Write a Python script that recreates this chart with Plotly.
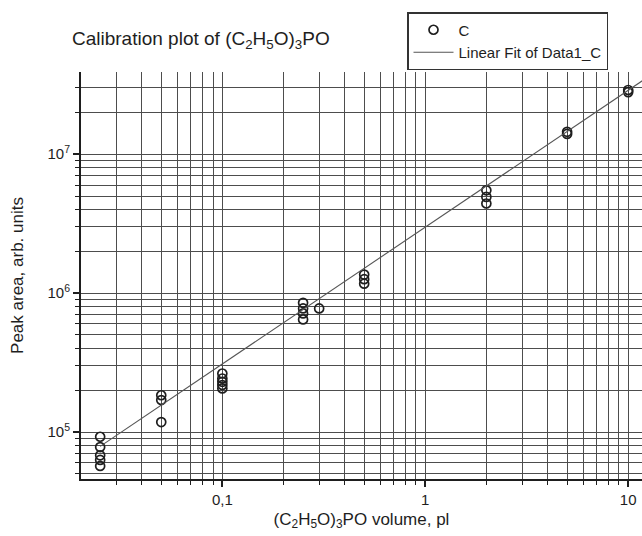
import numpy as np
import plotly.graph_objects as go

# ---- data ----
x_vol = [0.025, 0.025, 0.025, 0.025, 0.025,
         0.05, 0.05, 0.05,
         0.1, 0.1, 0.1, 0.1, 0.1,
         0.25, 0.25, 0.25, 0.25,
         0.3,
         0.5, 0.5, 0.5,
         2, 2, 2,
         5, 5,
         10, 10]
y_area = [92500, 78000, 68000, 63000, 57000,
          184000, 170000, 118000,
          264000, 243000, 230000, 218000, 206000,
          851000, 776000, 714000, 647000,
          776000,
          1360000, 1260000, 1170000,
          5500000, 4930000, 4420000,
          1.45e7, 1.40e7,
          2.90e7, 2.80e7]

# linear fit in log-log space: log10(y) = fit_intercept + fit_slope*log10(x)
fit_slope = 0.985
fit_intercept = 6.475
fit_x = [0.025, 12.0]

x_major = [0.1, 1, 10]
x_major_text = ["0,1", "1", "10"]
y_major = [1e5, 1e6, 1e7]
y_major_text = ["10<sup>5</sup>", "10<sup>6</sup>", "10<sup>7</sup>"]

def minor_vals(decades, lo, hi):
    out = []
    for d in decades:
        for m in range(2, 10):
            v = m * 10.0 ** d
            if lo <= v <= hi:
                out.append(v)
    return out

x_minor = minor_vals([-2, -1, 0, 1], 0.019, 12)
y_minor = minor_vals([4, 5, 6, 7], 4.5e4, 4e7)

fit_y = [10 ** (fit_intercept + fit_slope * np.log10(v)) for v in fit_x]

FONT = "Liberation Sans, Arial, Helvetica, sans-serif"
INK = "#1e1e1e"
GRID = "#4d4d4d"

L, R, T, B = 81, 0, 72, 57
PW, PH = 642 - L - R, 536 - T - B

fig = go.Figure()
fig.add_trace(go.Scatter(
    x=x_vol, y=y_area, mode="markers", name="C",
    marker=dict(symbol="circle-open", size=9, color=INK, line=dict(width=1.7, color=INK)),
))
fig.add_trace(go.Scatter(
    x=fit_x, y=fit_y, mode="lines", name="Linear Fit of Data1_C",
    line=dict(color="#555555", width=1.1),
))

fig.update_layout(
    width=642, height=536,
    margin=dict(l=L, r=R, t=T, b=B, autoexpand=False),
    paper_bgcolor="white", plot_bgcolor="white",
    font=dict(family=FONT, color=INK, size=14),
    showlegend=True,
    legend=dict(
        x=(407 - L) / PW, y=(536 - B - 12) / PH, xanchor="left", yanchor="top",
        bordercolor="#333333", borderwidth=1.5, bgcolor="white",
        font=dict(size=15, family=FONT, color=INK),
        itemwidth=40, tracegroupgap=0,
    ),
    annotations=[dict(
        text="Calibration plot of (C<sub>2</sub>H<sub>5</sub>O)<sub>3</sub>PO",
        xref="paper", yref="paper",
        x=(70 - L) / PW, y=(536 - B - 40) / PH,
        xanchor="left", yanchor="middle", showarrow=False,
        font=dict(size=19, family=FONT, color=INK),
    )],
)

fig.update_xaxes(
    type="log", range=[-1.6965, 1.068], automargin=False,
    tickvals=x_major, ticktext=x_major_text,
    ticks="outside", ticklen=6, tickwidth=1.5, tickcolor=INK,
    showline=True, linewidth=2, linecolor=INK,
    showgrid=True, gridcolor=GRID, gridwidth=1.2,
    zeroline=False,
    minor=dict(tickvals=x_minor, ticks="outside", ticklen=4, tickwidth=1.2,
               tickcolor=INK, showgrid=True, gridcolor=GRID, gridwidth=1.2),
    tickfont=dict(size=15),
    title=dict(text="(C<sub>2</sub>H<sub>5</sub>O)<sub>3</sub>PO volume, pl",
               font=dict(size=17), standoff=6),
)
fig.update_yaxes(
    type="log", range=[4.662, 7.592], automargin=False,
    tickvals=y_major, ticktext=y_major_text,
    ticks="outside", ticklen=6, tickwidth=1.5, tickcolor=INK,
    showline=True, linewidth=2, linecolor=INK,
    showgrid=True, gridcolor=GRID, gridwidth=1.2,
    zeroline=False,
    minor=dict(tickvals=y_minor, ticks="outside", ticklen=4, tickwidth=1.2,
               tickcolor=INK, showgrid=True, gridcolor=GRID, gridwidth=1.2),
    tickfont=dict(size=15),
    title=dict(text="Peak area, arb. units", font=dict(size=17), standoff=20),
)

fig.write_html("out.html", config={"displayModeBar": False},
               post_script="document.body.style.margin='0px';document.body.style.overflow='hidden';")
